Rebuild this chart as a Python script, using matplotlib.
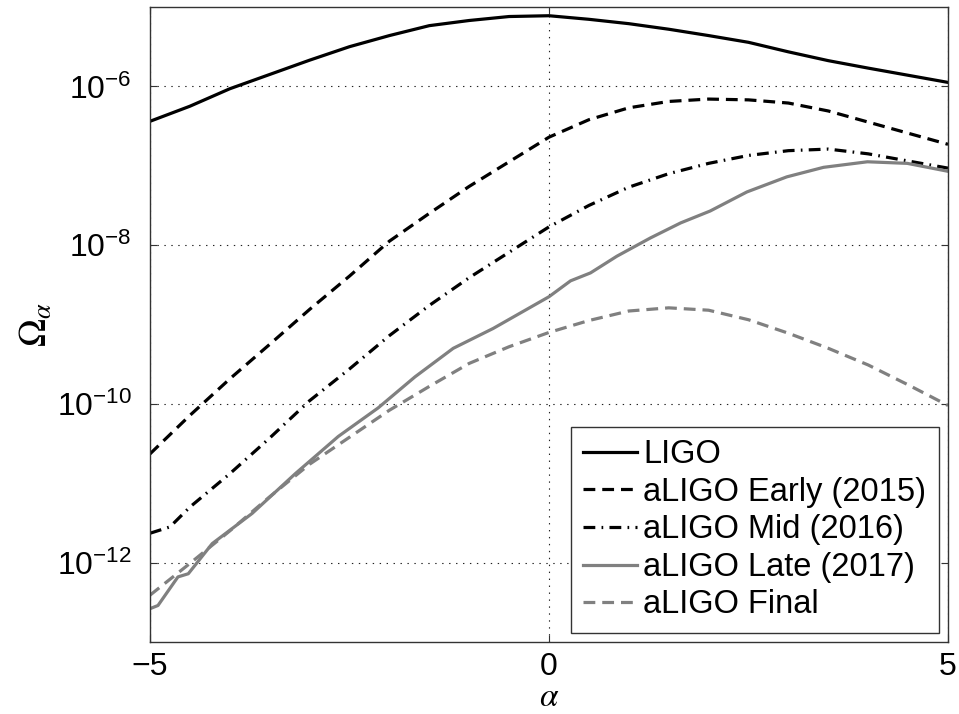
import matplotlib
matplotlib.use("Agg")
import matplotlib.pyplot as plt
import numpy as np
from matplotlib.ticker import NullLocator

plt.rcParams['font.family'] = ['Liberation Sans', 'DejaVu Sans']
plt.rcParams['lines.scale_dashes'] = False

# log10 of Omega_alpha for each detector configuration
alpha_grid = [-5.0, -4.5, -4.0, -3.5, -3.0, -2.5, -2.0, -1.5, -1.0, -0.5, 0.0,
              0.5, 1.0, 1.5, 2.0, 2.5, 3.0, 3.5, 4.0, 4.5, 5.0]

ligo_log = [-6.44, -6.25, -6.03, -5.85, -5.67, -5.50, -5.36, -5.235, -5.17, -5.12, -5.11,
            -5.155, -5.21, -5.28, -5.36, -5.445, -5.565, -5.676, -5.77, -5.86, -5.95]

early_log = [-10.63, -10.145, -9.685, -9.25, -8.81, -8.39, -7.95, -7.60, -7.26, -6.95, -6.64,
             -6.42, -6.27, -6.19, -6.16, -6.17, -6.21, -6.31, -6.45, -6.59, -6.73]

mid_alpha = [-5.0, -4.75, -4.5, -4.0, -3.5, -3.0, -2.5, -2.0, -1.5, -1.0, -0.5, 0.0,
             0.5, 1.0, 1.5, 2.0, 2.5, 3.0, 3.5, 4.0, 4.5, 5.0]
mid_log = [-11.63, -11.55, -11.30, -10.88, -10.43, -9.96, -9.56, -9.14, -8.76, -8.41, -8.09, -7.77,
           -7.50, -7.27, -7.10, -6.97, -6.87, -6.81, -6.79, -6.85, -6.94, -7.03]

late_alpha = [-5.0, -4.90, -4.65, -4.52, -4.22, -3.72, -3.18, -2.64, -2.14, -1.68, -1.20, -0.70,
              0.0, 0.27, 0.52, 0.85, 1.27, 1.65, 2.02, 2.48, 2.98, 3.44, 3.99, 4.49, 5.0]
late_log = [-12.58, -12.54, -12.18, -12.14, -11.76, -11.38, -10.88, -10.41, -10.05, -9.66, -9.30, -9.05,
            -8.65, -8.45, -8.35, -8.14, -7.91, -7.72, -7.57, -7.33, -7.14, -7.02, -6.95, -6.97, -7.07]

final_log = [-12.41, -12.01, -11.60, -11.17, -10.76, -10.42, -10.08, -9.78, -9.49, -9.28, -9.10,
             -8.95, -8.83, -8.79, -8.82, -8.94, -9.11, -9.30, -9.51, -9.76, -10.02]

labels = ["LIGO", "aLIGO Early (2015)", "aLIGO Mid (2016)", "aLIGO Late (2017)", "aLIGO Final"]
y_ticks = [1e-12, 1e-10, 1e-8, 1e-6]
x_ticks = [-5, 0, 5]

gray = '#808080'

fig = plt.figure(figsize=(9.59, 7.14), dpi=100)
ax = fig.add_axes([150 / 959, 1 - 642 / 714, 798 / 959, 635 / 714])

ax.plot(alpha_grid, 10 ** np.array(ligo_log), color='black', lw=2.3, label=labels[0])
ax.plot(alpha_grid, 10 ** np.array(early_log), color='black', lw=2.3,
        dashes=[8.5, 5], label=labels[1])
ax.plot(mid_alpha, 10 ** np.array(mid_log), color='black', lw=2.3,
        dashes=[8.5, 4.5, 1.2, 4.5], label=labels[2])
ax.plot(late_alpha, 10 ** np.array(late_log), color=gray, lw=2.3, label=labels[3])
ax.plot(alpha_grid, 10 ** np.array(final_log), color=gray, lw=2.3,
        dashes=[8.5, 5], label=labels[4])

ax.set_yscale('log')
ax.set_xlim(-5, 5)
ax.set_ylim(1e-13, 1e-5)
ax.set_yticks(y_ticks)
ax.set_xticks(x_ticks)
ax.yaxis.set_minor_locator(NullLocator())

ax.grid(True, color='#222222', linestyle=(0, (1, 4)), linewidth=0.8)
ax.tick_params(direction='in', top=True, right=True, length=5, width=0.8,
               labelsize=23, colors='#333333', labelcolor='black')
ax.tick_params(axis='x', pad=7)
ax.tick_params(axis='y', pad=13)
for sp in ax.spines.values():
    sp.set_color('#333333')
    sp.set_linewidth(1.0)

ax.set_xlabel(r'$\alpha$', fontsize=24, math_fontfamily='stix', labelpad=0)
ax.set_ylabel(r'$\Omega_\alpha$', fontsize=27, math_fontfamily='stix')
ax.yaxis.set_label_coords(-113 / 798, 0.5)
ax.yaxis.label.set_va('center')

leg = ax.legend(loc='lower right', fontsize=23.5, frameon=True, fancybox=False,
                edgecolor='#333333', framealpha=1, handlelength=1.65, handletextpad=0.2,
                labelspacing=0.2, borderpad=0.38, borderaxespad=0.28)
leg.get_frame().set_linewidth(1.0)

fig.savefig('out.png', dpi=100)
